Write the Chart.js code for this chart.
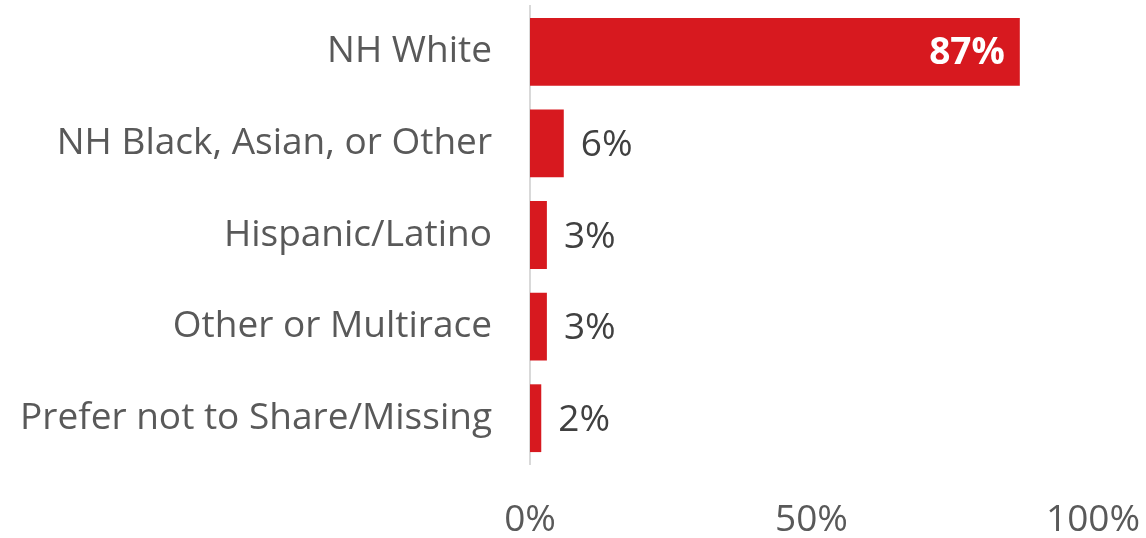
<!DOCTYPE html>
<html>
<head>
<meta charset="utf-8">
<script src="https://cdn.jsdelivr.net/npm/chart.js"></script>
<style>
  html, body { margin: 0; padding: 0; background: #fff; }
  #wrap { width: 1146px; height: 538px; position: relative; }
</style>
</head>
<body>
<div id="wrap"><canvas id="raceChart" width="1146" height="538"></canvas></div>
<script>
// Données du graphique
const categories = ['NH White', 'NH Black, Asian, or Other', 'Hispanic/Latino', 'Other or Multirace', 'Prefer not to Share/Missing'];
const shares = [87, 6, 3, 3, 2];
const xTicks = [0, 50, 100];

const barColor = '#d7191f';
const fontFamily = '"Open Sans", "Noto Sans", sans-serif';
const fontSize = 37;

// étiquettes de valeur dessinées à la main (pas de plugin datalabels)
const valueLabels = {
    id: 'valueLabels',
    afterDatasetsDraw(chart) {
        const ctx = chart.ctx;
        const meta = chart.getDatasetMeta(0);
        ctx.save();
        ctx.textBaseline = 'middle';
        meta.data.forEach((bar, i) => {
            const v = shares[i];
            if (v > 50) {
                ctx.font = 'bold ' + fontSize + 'px ' + fontFamily;
                ctx.fillStyle = '#ffffff';
                ctx.textAlign = 'right';
                ctx.fillText(v + '%', bar.x - 15, bar.y + 2);
            } else {
                ctx.font = fontSize + 'px ' + fontFamily;
                ctx.fillStyle = '#404040';
                ctx.textAlign = 'left';
                ctx.fillText(v + '%', bar.x + 17, bar.y + 2);
            }
        });
        ctx.restore();
    }
};

new Chart(document.getElementById('raceChart'), {
    type: 'bar',
    data: {
        labels: categories,
        datasets: [{
            data: shares,
            backgroundColor: barColor,
            borderWidth: 0,
            categoryPercentage: 0.74,
            barPercentage: 1
        }]
    },
    options: {
        indexAxis: 'y',
        responsive: false,
        animation: false,
        layout: { padding: { top: 6, right: 53, bottom: 0, left: 0 } },
        plugins: {
            legend: { display: false },
            tooltip: { enabled: false }
        },
        scales: {
            x: {
                min: 0,
                max: 100,
                afterBuildTicks(axis) {
                    axis.ticks = xTicks.map(v => ({ value: v }));
                },
                afterFit(axis) {
                    axis.height = 74;
                    axis.paddingLeft = 0;
                    axis.paddingRight = 0;
                },
                grid: { display: false, drawTicks: false },
                border: { display: false },
                ticks: {
                    padding: 34,
                    color: '#595959',
                    font: { family: fontFamily, size: fontSize },
                    maxRotation: 0,
                    callback: v => v + '%'
                }
            },
            y: {
                grid: { display: false, drawTicks: false },
                border: { display: true, color: '#d9d9d9', width: 2 },
                afterFit(axis) {
                    axis.width = 530;
                    axis.paddingTop = 0;
                    axis.paddingBottom = 0;
                },
                ticks: {
                    padding: 38,
                    color: '#595959',
                    font: { family: fontFamily, size: fontSize }
                }
            }
        }
    },
    plugins: [valueLabels]
});
</script>
</body>
</html>
